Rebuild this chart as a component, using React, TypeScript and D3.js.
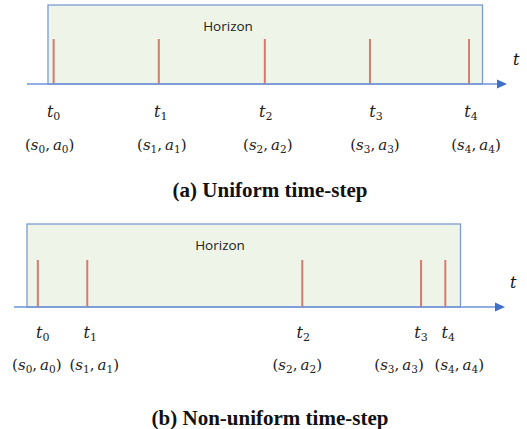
import React from "react";
import * as d3 from "d3";

// Time positions of the steps on a horizon of length 10
const uniformTimes = [0.13, 2.55, 4.99, 7.41, 9.69];
const nonUniformTimes = [0.25, 1.39, 6.35, 9.09, 9.65];
const stepIndices = [0, 1, 2, 3, 4];
const captions = ["(a) Uniform time-step", "(b) Non-uniform time-step"];
const horizonLabel = "Horizon";
const axisLabel = "t";

const W = 527, H = 429;

type PanelCfg = {
  times: number[];
  boxX0: number; boxX1: number; boxTop: number; axisY: number;
  axisX0: number; axisX1: number; tickTop: number;
  horizonX: number; horizonY: number;
  tLabelY: number; saLabelY: number; tLabelDx: number[]; saLabelDx: number[];
  captionX: number; captionY: number; caption: string; tX: number; tY: number;
};

function Panel({ c }: { c: PanelCfg }) {
  const x = d3.scaleLinear().domain([0, 10]).range([c.boxX0, c.boxX1]);
  const red = "#D77A6E";
  const mathFont = "'DejaVu Serif', serif";
  return (
    <g>
      <rect x={c.boxX0} y={c.boxTop} width={c.boxX1 - c.boxX0} height={c.axisY - c.boxTop}
        fill="#EEF5E8" stroke="#7D9AD2" strokeWidth={1.3} />
      <text x={c.horizonX} y={c.horizonY} fontFamily="'Open Sans', sans-serif" fontSize={13.5}
        textAnchor="middle" fill="#222">{horizonLabel}</text>
      {c.times.map((t, i) => (
        <line key={i} x1={x(t)} x2={x(t)} y1={c.tickTop} y2={c.axisY} stroke={red} strokeWidth={2} />
      ))}
      <line x1={c.axisX0} x2={c.axisX1 - 8} y1={c.axisY} y2={c.axisY} stroke="#6F93D6" strokeWidth={1.5} />
      <path d={`M${c.axisX1},${c.axisY} L${c.axisX1 - 10},${c.axisY - 4.5} L${c.axisX1 - 10},${c.axisY + 4.5} Z`} fill="#3F6FC6" />
      <text x={c.tX} y={c.tY} fontFamily={mathFont} fontStyle="italic" fontSize={16} fill="#111">{axisLabel}</text>
      {c.times.map((t, i) => (
        <text key={"t" + i} x={x(t) + c.tLabelDx[i]} y={c.tLabelY} fontFamily={mathFont}
          fontSize={16} fill="#222" textAnchor="middle">
          <tspan fontStyle="italic">t</tspan>
          <tspan fontSize={11} dy={3}>{stepIndices[i]}</tspan>
        </text>
      ))}
      {c.times.map((t, i) => (
        <text key={"sa" + i} x={x(t) + c.saLabelDx[i]} y={c.saLabelY} fontFamily={mathFont}
          fontSize={15} fill="#222" textAnchor="middle">
          <tspan>(</tspan>
          <tspan fontStyle="italic">s</tspan>
          <tspan fontSize={10.5} dy={3}>{stepIndices[i]}</tspan>
          <tspan dy={-3}>,{"\u2009"}</tspan>
          <tspan fontStyle="italic">a</tspan>
          <tspan fontSize={10.5} dy={3}>{stepIndices[i]}</tspan>
          <tspan dy={-3}>)</tspan>
        </text>
      ))}
      <text x={c.captionX} y={c.captionY} fontFamily="'Liberation Serif', serif" fontWeight="bold"
        fontSize={21} textAnchor="middle" fill="#111">{c.caption}</text>
    </g>
  );
}

export default function App() {
  const a: PanelCfg = {
    times: uniformTimes, boxX0: 48, boxX1: 482.5, boxTop: 5, axisY: 84,
    axisX0: 27, axisX1: 507, tickTop: 39, horizonX: 228, horizonY: 31,
    tLabelY: 117, saLabelY: 150, tLabelDx: [0, 2, 1, 6, 2], saLabelDx: [-4, 3, 3, 5, 7],
    captionX: 270, captionY: 197, caption: captions[0], tX: 513, tY: 65,
  };
  const b: PanelCfg = {
    times: nonUniformTimes, boxX0: 27, boxX1: 460.5, boxTop: 224, axisY: 307,
    axisX0: 14, axisX1: 505, tickTop: 260, horizonX: 220, horizonY: 250,
    tLabelY: 338, saLabelY: 370, tLabelDx: [5, 3, 1, 0, 3], saLabelDx: [-1, 7, -5, -22, 14],
    captionX: 270, captionY: 425, caption: captions[1], tX: 510, tY: 288,
  };
  return (
    <svg width={W} height={H} style={{ position: "absolute", left: 0, top: 0, background: "#fff" }}>
      <rect width={W} height={H} fill="#fff" />
      <Panel c={a} />
      <Panel c={b} />
    </svg>
  );
}
